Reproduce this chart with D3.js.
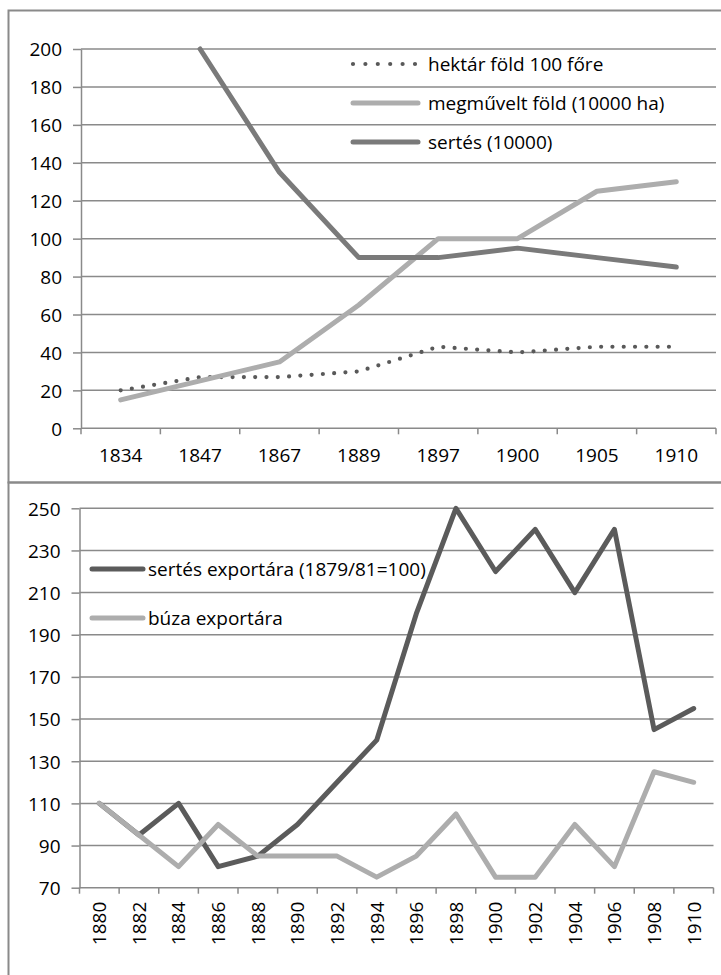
<!DOCTYPE html>
<html>
<head>
<meta charset="utf-8">
<script src="https://cdn.jsdelivr.net/npm/d3@7"></script>
<style>
    body { margin: 0; background: #fff; }
    svg text { font-family: "Open Sans", sans-serif; font-size: 19px; fill: #000; }
</style>
</head>
<body>
<div id="chart"></div>
<script>
// top chart data
var topCategories = ["1834", "1847", "1867", "1889", "1897", "1900", "1905", "1910"];
var hektarFold = [20, 27, 27, 30, 43, 40, 43, 43];
var megmuveltFold = [15, 25, 35, 65, 100, 100, 125, 130];
var sertes = [null, 200, 135, 90, 90, 95, 90, 85];
var topTicks = [0, 20, 40, 60, 80, 100, 120, 140, 160, 180, 200];
var topNames = ["hektár föld 100 főre", "megművelt föld (10000 ha)", "sertés (10000)"];

// bottom chart data
var bottomCategories = ["1880", "1882", "1884", "1886", "1888", "1890", "1892", "1894",
                        "1896", "1898", "1900", "1902", "1904", "1906", "1908", "1910"];
var sertesExport = [110, 95, 110, 80, 85, 100, 120, 140, 200, 250, 220, 240, 210, 240, 145, 155];
var buzaExport = [110, 95, 80, 100, 85, 85, 85, 75, 85, 105, 75, 75, 100, 80, 125, 120];
var bottomTicks = [70, 90, 110, 130, 150, 170, 190, 210, 230, 250];
var bottomNames = ["sertés exportára (1879/81=100)", "búza exportára"];

var gridColor = "#8a8a8a";

var svg = d3.select("#chart").append("svg")
    .attr("width", 721)
    .attr("height", 975);

//outer frames of the two charts
svg.append("rect")
    .attr("x", 8.5).attr("y", 10.5)
    .attr("width", 720).attr("height", 472)
    .attr("fill", "none").attr("stroke", gridColor).attr("stroke-width", 2);
svg.append("rect")
    .attr("x", 8.5).attr("y", 482.5)
    .attr("width", 720).attr("height", 520)
    .attr("fill", "none").attr("stroke", gridColor).attr("stroke-width", 2);

function drawPanel(opts) {
    var g = svg.append("g");

    var x = d3.scaleBand()
        .domain(opts.categories)
        .range(opts.xRange);
    var y = d3.scaleLinear()
        .domain(d3.extent(opts.ticks))
        .range(opts.yRange);
    var cx = function(c) { return x(c) + x.bandwidth() / 2; };
    var y0 = y(opts.ticks[0]);

    //gridlines
    g.append("g").selectAll("line")
        .data(opts.ticks)
        .enter().append("line")
        .attr("x1", opts.xRange[0])
        .attr("x2", opts.xRange[1])
        .attr("y1", function(d) { return y(d); })
        .attr("y2", function(d) { return y(d); })
        .attr("stroke", gridColor)
        .attr("stroke-width", 1.5);

    //y axis
    var yAxis = d3.axisLeft(y)
        .tickValues(opts.ticks)
        .tickSize(8)
        .tickSizeOuter(0)
        .tickPadding(11);
    var yg = g.append("g")
        .attr("transform", "translate(" + opts.xRange[0] + ",0)")
        .call(yAxis);
    yg.select(".domain").attr("stroke", gridColor).attr("stroke-width", 1.5);
    yg.selectAll(".tick line").attr("stroke", gridColor).attr("stroke-width", 1.5);
    yg.selectAll(".tick text").attr("dy", "0.36em");

    //x axis ticks sit on the band edges
    var edges = opts.categories.map(function(c) { return x(c); }).concat([opts.xRange[1]]);
    g.append("g").selectAll("line")
        .data(edges)
        .enter().append("line")
        .attr("x1", function(d) { return d; })
        .attr("x2", function(d) { return d; })
        .attr("y1", y0)
        .attr("y2", y0 + 6)
        .attr("stroke", gridColor)
        .attr("stroke-width", 1.5);

    //x labels
    var xAxis = d3.axisBottom(x).tickSize(0).tickPadding(opts.labelPad);
    var xg = g.append("g")
        .attr("transform", "translate(0," + y0 + ")")
        .call(xAxis);
    xg.select(".domain").remove();
    if (opts.rotate) {
        xg.selectAll(".tick text")
            .attr("transform", "rotate(-90)")
            .attr("x", -opts.labelPad)
            .attr("y", 0)
            .attr("dy", "0.36em")
            .style("text-anchor", "end");
    }

    //series lines
    opts.series.forEach(function(s) {
        var line = d3.line()
            .defined(function(d) { return d != null; })
            .x(function(d, i) { return cx(opts.categories[i]); })
            .y(function(d) { return y(d); });
        g.append("path")
            .datum(s.values)
            .attr("d", line)
            .attr("fill", "none")
            .attr("stroke", s.color)
            .attr("stroke-width", s.width)
            .attr("stroke-dasharray", s.dash)
            .attr("stroke-linecap", "round")
            .attr("stroke-linejoin", "round");
    });

    //legend
    var lg = g.append("g");
    opts.legendOrder.forEach(function(k, i) {
        var s = opts.series[k];
        var ly = opts.legend.y + i * opts.legend.step;
        lg.append("line")
            .attr("x1", opts.legend.x1)
            .attr("x2", opts.legend.x2)
            .attr("y1", ly)
            .attr("y2", ly)
            .attr("stroke", s.color)
            .attr("stroke-width", s.width)
            .attr("stroke-dasharray", s.legendDash || s.dash)
            .attr("stroke-linecap", "round");
        lg.append("text")
            .attr("x", opts.legend.tx)
            .attr("y", ly)
            .attr("dy", "0.36em")
            .text(s.name);
    });
}

drawPanel({
    categories: topCategories,
    ticks: topTicks,
    xRange: [81, 716],
    yRange: [428.3, 49],
    labelPad: 20,
    rotate: false,
    series: [
        {name: topNames[0], values: hektarFold, color: "#595959", width: 4.2, dash: "0,11.3", legendDash: "0,12.4"},
        {name: topNames[1], values: megmuveltFold, color: "#adadad", width: 5, dash: null},
        {name: topNames[2], values: sertes, color: "#7a7a7a", width: 5, dash: null}
    ],
    legendOrder: [0, 1, 2],
    legend: {x1: 353, x2: 418, tx: 428, y: 64, step: 39}
});

drawPanel({
    categories: bottomCategories,
    ticks: bottomTicks,
    xRange: [79.5, 713.5],
    yRange: [887.7, 508.3],
    labelPad: 14,
    rotate: true,
    series: [
        {name: bottomNames[0], values: sertesExport, color: "#5b5b5b", width: 5, dash: null},
        {name: bottomNames[1], values: buzaExport, color: "#adadad", width: 5, dash: null}
    ],
    legendOrder: [0, 1],
    legend: {x1: 92, x2: 143, tx: 148, y: 569, step: 49}
});
</script>
</body>
</html>
